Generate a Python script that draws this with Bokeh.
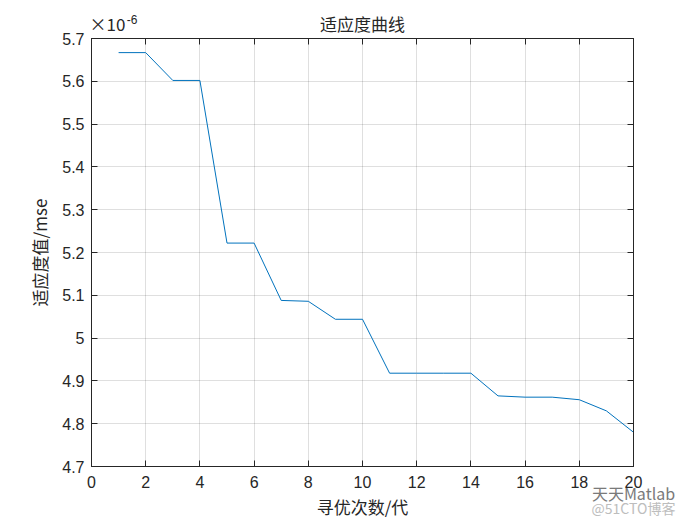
from bokeh.plotting import figure
from bokeh.models import LinearAxis, FixedTicker, Range1d
from bokeh.embed import file_html
from bokeh.resources import INLINE

# fitness curve (values in units of 1e-6)
generations = list(range(1, 21))
fitness = [5.667, 5.667, 5.602, 5.602, 5.222, 5.222, 5.088, 5.086, 5.044, 5.044,
           4.918, 4.918, 4.918, 4.918, 4.865, 4.862, 4.862, 4.856, 4.830, 4.780]
x_ticks = [0, 2, 4, 6, 8, 10, 12, 14, 16, 18, 20]
y_ticks = [4.7, 4.8, 4.9, 5.0, 5.1, 5.2, 5.3, 5.4, 5.5, 5.6, 5.7]
y_tick_labels = ["4.7", "4.8", "4.9", "5", "5.1", "5.2", "5.3", "5.4", "5.5", "5.6", "5.7"]
title_text = "适应度曲线"
exponent_base = "×10"
exponent_power = "-6"
x_label = "寻优次数/代"
y_label = "适应度值/mse"
watermark_1 = "天天Matlab"
watermark_2 = "@51CTO博客"

FONT = "Liberation Sans"
CJK = "Noto Sans CJK SC"
INK = "#262626"

p = figure(width=700, height=525, output_backend="svg", toolbar_location=None,
           x_range=Range1d(0, 20), y_range=Range1d(4.7, 5.7),
           min_border_left=91, min_border_right=67, min_border_top=38, min_border_bottom=59,
           x_axis_location=None, y_axis_location=None)
p.background_fill_color = "white"
p.border_fill_color = "white"
p.outline_line_color = INK
p.outline_line_width = 1


def base_axis(ticks, overrides=None, marks=True, labels=True):
    ax = LinearAxis(ticker=FixedTicker(ticks=ticks))
    if overrides:
        ax.major_label_overrides = overrides
    ax.minor_tick_line_color = None
    ax.axis_line_color = INK if marks else None
    ax.major_tick_line_color = INK if marks else None
    ax.major_tick_in = 6 if marks else 0
    ax.major_tick_out = 0
    ax.major_label_text_font = FONT
    ax.major_label_text_font_size = "16px"
    ax.major_label_text_color = INK
    ax.axis_label_text_font = CJK
    ax.axis_label_text_font_size = "17px"
    ax.axis_label_text_font_style = "normal"
    ax.axis_label_text_color = INK
    if not labels:
        ax.major_label_text_font_size = "0px"
        ax.major_label_standoff = 0
        ax.major_label_text_color = None
    return ax


# bottom: tick marks, then tick labels + x label
xb_marks = base_axis(x_ticks, labels=False)
xb = base_axis(x_ticks, marks=False)
xb.major_label_standoff = 9
xb.axis_label = x_label
xb.axis_label_standoff = 3
p.add_layout(xb_marks, "below")
p.add_layout(xb, "below")

# watermark (two rows, pulled back up over the x axis rows; zero layout size)
wm1 = base_axis([20], overrides={20: watermark_1}, marks=False)
wm1.major_label_text_font = CJK
wm1.major_label_text_font_size = "16px"
wm1.major_label_text_color = "#7a7a7a"
wm1.major_label_standoff = -41
p.add_layout(wm1, "below")
wm2 = base_axis([20], overrides={20: watermark_2}, marks=False)
wm2.major_label_text_font = CJK
wm2.major_label_text_font_size = "14px"
wm2.major_label_text_color = "#bdbdbd"
wm2.major_label_standoff = -24
p.add_layout(wm2, "below")

# left axis
yl = base_axis(y_ticks, overrides={t: s for t, s in zip(y_ticks, y_tick_labels)})
yl.major_label_standoff = 7
yl.axis_label = y_label
yl.axis_label_standoff = 7
p.add_layout(yl, "left")

# top: tick marks, then exponent base + title on one line, then superscript
xt_marks = base_axis(x_ticks, labels=False)
p.add_layout(xt_marks, "above")
xt_text = base_axis([0.59, 10], overrides={0.59: exponent_base, 10: title_text}, marks=False)
xt_text.major_label_text_font = CJK
xt_text.major_label_text_font_size = "17px"
xt_text.major_label_standoff = 3
p.add_layout(xt_text, "above")
xt_pow = base_axis([1.5], overrides={1.5: exponent_power}, marks=False)
xt_pow.major_label_text_font = FONT
xt_pow.major_label_text_font_size = "12px"
xt_pow.major_label_standoff = -16
p.add_layout(xt_pow, "above")

# right: tick marks only
yr = base_axis(y_ticks, labels=False)
p.add_layout(yr, "right")

p.xgrid.ticker = FixedTicker(ticks=x_ticks)
p.ygrid.ticker = FixedTicker(ticks=y_ticks)
for g in (p.xgrid, p.ygrid):
    g.grid_line_color = INK
    g.grid_line_alpha = 0.15

p.line(generations, fitness, line_color="#0072BD", line_width=1)

open("out.html", "w").write(file_html(p, INLINE))
